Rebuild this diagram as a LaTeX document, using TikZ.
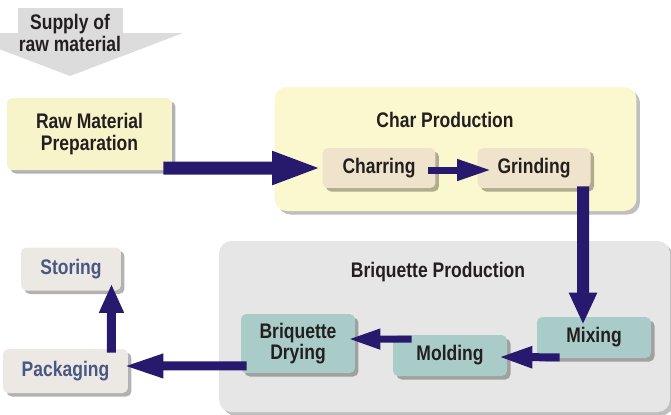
\documentclass[tikz,border=0pt]{standalone}
\usepackage{fontspec}
\setmainfont{Liberation Sans}[FakeStretch=0.83]
\usetikzlibrary{arrows.meta, shadows}
\definecolor{inkdark}{HTML}{231F20}
\definecolor{supplygray}{HTML}{DCDCDC}
\definecolor{rawyellow}{HTML}{F8F4C9}
\definecolor{charzone}{HTML}{FBF7CE}
\definecolor{charbeige}{HTML}{EFE3CB}
\definecolor{briqzone}{HTML}{E6E6E6}
\definecolor{briqteal}{HTML}{A9CCC8}
\definecolor{finalgray}{HTML}{ECE9E5}
\definecolor{finalblue}{HTML}{4A5782}
\definecolor{arrownavy}{HTML}{271A6E}
\tikzstyle{stage} = [rectangle, rounded corners=3pt, align=center, inner sep=1mm, text=inkdark, font=\bfseries\fontsize{12}{12}\selectfont, drop shadow={shadow xshift=0.07cm, shadow yshift=-0.07cm, opacity=0.3, fill=black}]
\tikzstyle{prep} = [stage, fill=rawyellow, minimum width=3.3cm, minimum height=1.44cm]
\tikzstyle{charstep} = [stage, fill=charbeige, minimum width=2.26cm, minimum height=0.8cm]
\tikzstyle{briqstep} = [stage, fill=briqteal, minimum width=2.28cm, minimum height=0.82cm]
\tikzstyle{finalstep} = [stage, fill=finalgray, text=finalblue]
\tikzstyle{groupbox} = [rectangle, rounded corners=7pt, drop shadow={shadow xshift=0.07cm, shadow yshift=-0.07cm, opacity=0.25, fill=black}]
\tikzstyle{grouptitle} = [font=\bfseries\fontsize{12}{12}\selectfont, text=inkdark]
\tikzstyle{arrow} = [draw=arrownavy, line width=0.18cm, -{Triangle[length=0.7cm, width=0.44cm]}]

\begin{document}
\begin{tikzpicture}[x=0.02cm, y=-0.02cm]
  \useasboundingbox (0,0) rectangle (671,414);
  % supply arrow
  \fill[supplygray] (18,8) -- (123,8) -- (123,33) -- (183,33) -- (70,76) -- (-43,33) -- (18,33) -- cycle;
  \node[grouptitle, align=center, font=\bfseries\fontsize{12}{13}\selectfont] (supply) at (70,33) {Supply of\\raw material};

  % zones
  \node[groupbox, fill=charzone, minimum width=7.24cm, minimum height=2.48cm] (charzone) at (455.5,149) {};
  \node[groupbox, fill=briqzone, minimum width=9.02cm, minimum height=3.42cm] (briqzone) at (444.5,326.5) {};
  \node[grouptitle] (chartitle) at (445,120) {Char Production};
  \node[grouptitle] (briqtitle) at (438,272) {Briquette Production};

  % steps
  \node[prep] (raw) at (89.5,134) {Raw Material\\Preparation};
  \node[charstep] (charring) at (379,168) {Charring};
  \node[charstep] (grinding) at (534,168) {Grinding};
  \node[briqstep] (mixing) at (594,337.5) {Mixing};
  \node[briqstep] (molding) at (450,355.5) {Molding};
  \node[briqstep, minimum height=1.18cm] (drying) at (298,343.5) {Briquette\\Drying};
  \node[finalstep, minimum width=2.5cm, minimum height=0.88cm] (packaging) at (65.5,371) {Packaging};
  \node[finalstep, minimum width=2cm, minimum height=0.86cm] (storing) at (71,269) {Storing};

  % flow
  \draw[arrow, line width=0.26cm, -{Triangle[length=1cm, width=0.6cm]}] ([xshift=-0.18cm, yshift=-0.68cm]raw.east) -- (charring.west);
  \draw[arrow, line width=0.14cm, -{Triangle[length=0.68cm, width=0.4cm]}] ([xshift=-0.16cm, yshift=-0.04cm]charring.east) -- ([xshift=0.28cm, yshift=-0.04cm]grinding.west);
  \draw[arrow, line width=0.24cm, -{Triangle[length=0.64cm, width=0.52cm]}] ([xshift=0.98cm, yshift=0.04cm]grinding.south) -- ([xshift=-0.22cm, yshift=-0.16cm]mixing.north);
  \draw[arrow, line width=0.16cm, -{Triangle[length=0.68cm, width=0.4cm]}] ([xshift=0.46cm, yshift=0.02cm]mixing.south west) -- ([xshift=-0.18cm, yshift=-0.03cm]molding.east);
  \draw[arrow, line width=0.14cm, -{Triangle[length=0.64cm, width=0.38cm]}] ([xshift=0.38cm, yshift=-0.09cm]molding.north west) -- ([xshift=-0.14cm, yshift=0.09cm]drying.east);
  \draw[arrow, -{Triangle[length=0.8cm, width=0.44cm]}] ([xshift=0.12cm, yshift=0.15cm]drying.south west) -- ([xshift=-0.1cm, yshift=0.1cm]packaging.east);
  \draw[arrow, -{Triangle[length=0.58cm, width=0.46cm]}] ([xshift=0.92cm, yshift=-0.08cm]packaging.north) -- ([xshift=0.81cm, yshift=0.14cm]storing.south);
\end{tikzpicture}
\end{document}
